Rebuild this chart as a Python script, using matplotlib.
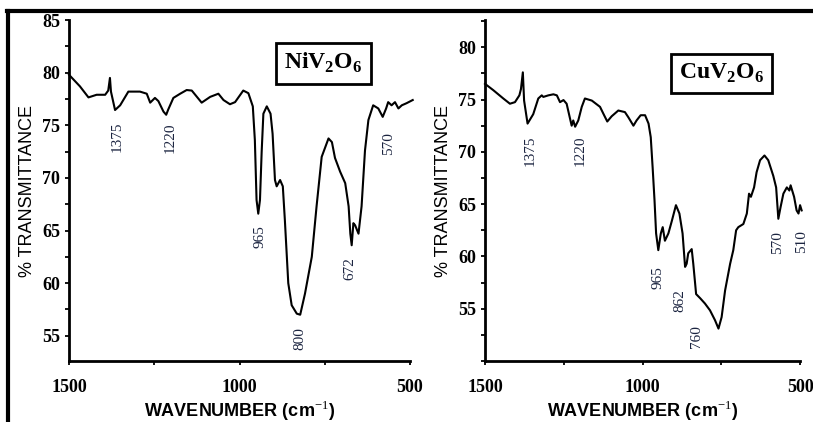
import numpy as np
import matplotlib.pyplot as plt
from matplotlib.ticker import MultipleLocator, FixedLocator

# NiV2O6 spectrum
ni_wn = [1500, 1468, 1443, 1419, 1394, 1385, 1380, 1377, 1365, 1350, 1326, 1292,
         1272, 1262, 1248, 1238, 1223, 1215, 1209, 1194, 1174, 1155, 1140, 1111,
         1086, 1062, 1047, 1028, 1013, 989, 974, 961, 955, 950, 945, 940, 935,
         930, 920, 909, 903, 896, 891, 881, 873, 867, 857, 847, 832, 822, 808,
         788, 774, 759, 739, 729, 720, 705, 690, 680, 675, 671, 666, 661, 651,
         642, 632, 622, 608, 593, 580, 570, 564, 554, 544, 534, 524, 510, 492]
ni_t = [79.8, 78.7, 77.65, 77.9, 77.9, 78.3, 79.5, 78.2, 76.45, 76.9, 78.2, 78.2,
        78.0, 77.15, 77.6, 77.3, 76.3, 76.0, 76.5, 77.6, 78.0, 78.35, 78.3, 77.15,
        77.7, 78.0, 77.4, 77.0, 77.2, 78.3, 78.05, 76.8, 73.6, 67.9, 66.6, 67.9, 72.5,
        76.1, 76.8, 76.1, 74.2, 69.8, 69.2, 69.8, 69.2, 66.0, 60.0, 57.9, 57.1, 57.0, 59.0,
        62.5, 67.3, 72.0, 73.75, 73.4, 71.9, 70.6, 69.5, 67.3, 64.7, 63.6, 65.7, 65.5, 64.7,
        67.3, 72.6, 75.5, 76.9, 76.6, 75.8, 76.6, 77.2, 76.9, 77.2, 76.6, 76.9, 77.1, 77.4]

# CuV2O6 spectrum
cu_wn = [1500, 1474, 1442, 1421, 1405, 1391, 1386, 1380, 1376, 1365, 1347, 1331,
         1320, 1315, 1299, 1283, 1272, 1262, 1251, 1241, 1230, 1225, 1220, 1214,
         1204, 1193, 1183, 1161, 1135, 1122, 1112, 1098, 1077, 1056, 1045, 1029,
         1019, 1006, 992, 981, 974, 968, 962, 957, 950, 942, 936, 929, 918, 907,
         894, 883, 873, 865, 860, 855, 844, 839, 830, 817, 802, 786, 770, 759,
         749, 738, 722, 712, 703, 696, 680, 669, 662, 656, 646, 638, 627, 613,
         601, 585, 576, 569, 562, 553, 542, 534, 530, 519, 511, 505, 500, 495]
cu_t = [76.5, 75.9, 75.1, 74.6, 74.75, 75.4, 76.0, 77.6, 74.9, 72.7, 73.6, 75.1,
        75.4, 75.25, 75.4, 75.5, 75.4, 74.75, 74.95, 74.6, 73.15, 72.5, 73.0, 72.4,
        73.0, 74.3, 75.1, 74.9, 74.3, 73.5, 72.9, 73.4, 73.95, 73.8, 73.3, 72.5,
        73.0, 73.5, 73.5, 72.7, 71.4, 68.5, 65.35, 62.2, 60.6, 62.2, 62.8, 61.5, 62.2, 63.4,
        64.9, 64.1, 62.2, 59.0, 59.3, 60.3, 60.7, 59.3, 56.4, 56.0, 55.5, 54.85, 53.9, 53.1,
        54.2, 56.75, 59.3, 60.6, 62.5, 62.8, 63.1, 64.1, 66.0, 65.7, 66.6, 68.05, 69.2, 69.65,
        69.2, 67.7, 66.6, 63.6, 64.7, 66.0, 66.6, 66.3, 66.8, 65.7, 64.4, 64.1, 64.9, 64.4]

# peak labels: text, x, y
ni_peaks = [('1375', 1360, 73.9), ('1220', 1204, 73.8), ('965', 940, 64.4),
            ('800', 824, 54.75), ('672', 676, 61.4), ('570', 564, 73.3)]
cu_peaks = [('1375', 1357, 70.1), ('1220', 1198, 70.1), ('965', 950, 58.0),
            ('862', 883, 55.8), ('760', 828, 52.3), ('570', 571, 61.3),
            ('510', 495, 61.4)]

serif = 'Liberation Serif'
sans = ['Liberation Sans Narrow', 'Liberation Sans', 'DejaVu Sans']
lab_color = '#1b2440'

plt.rcParams['mathtext.fontset'] = 'custom'
plt.rcParams['mathtext.rm'] = 'Liberation Serif'
plt.rcParams['mathtext.bf'] = 'Liberation Serif:bold'

fig = plt.figure(figsize=(8.13, 4.22), dpi=100)
ax1 = fig.add_axes([0.0849, 0.1445, 0.4194, 0.808])
ax2 = fig.add_axes([0.5966, 0.1445, 0.3875, 0.808])


def style(ax, ylim, yticks, wn, t, peaks, name, namepos):
    ax.plot(wn, t, color='black', lw=1.5, clip_on=False)
    ax.set_xlim(1500, 500)
    ax.set_ylim(*ylim)
    for s in ['top', 'right']:
        ax.spines[s].set_visible(False)
    for s in ['left', 'bottom']:
        ax.spines[s].set_linewidth(2)
    ax.xaxis.set_major_locator(FixedLocator([1500, 1000, 500]))
    ax.xaxis.set_minor_locator(FixedLocator([1250, 750]))
    ax.set_yticks(yticks)
    ax.yaxis.set_minor_locator(MultipleLocator(2.5))
    ax.tick_params(which='both', length=3, width=1.3, direction='out')
    for lbl in ax.get_xticklabels() + ax.get_yticklabels():
        lbl.set_fontfamily(serif)
        lbl.set_fontweight('bold')
        lbl.set_fontsize(13)
    ax.tick_params(axis='x', pad=10)
    ax.set_ylabel('% TRANSMITTANCE', family=sans, fontsize=13, labelpad=4)
    ax.set_xlabel('WAVENUMBER (cm$^{-1}$)', family=sans, fontsize=13,
                  fontweight='bold', labelpad=2)
    for txt, x, y in peaks:
        ax.text(x, y, txt, rotation=90, ha='center', va='center',
                family=serif, fontsize=11, color=lab_color)
    ax.text(namepos[0], namepos[1], name, ha='center', va='center',
            family=serif, fontsize=17, fontweight='bold',
            bbox=dict(boxstyle='square,pad=0.35', fc='white', ec='black', lw=2))


style(ax1, (52.6, 85), [55, 60, 65, 70, 75, 80, 85], ni_wn, ni_t, ni_peaks,
      r'NiV$_\mathbf{2}$O$_\mathbf{6}$', (754, 80.9))
style(ax2, (50, 82.6), [55, 60, 65, 70, 75, 80], cu_wn, cu_t, cu_peaks,
      r'CuV$_\mathbf{2}$O$_\mathbf{6}$', (749, 77.5))

# outer frame lines
fig.add_artist(plt.Line2D([0.009, 0.999], [0.974, 0.974], color='black', lw=3))
fig.add_artist(plt.Line2D([0.010, 0.010], [0.0, 0.974], color='black', lw=3))

plt.savefig('out.png', dpi=100)
